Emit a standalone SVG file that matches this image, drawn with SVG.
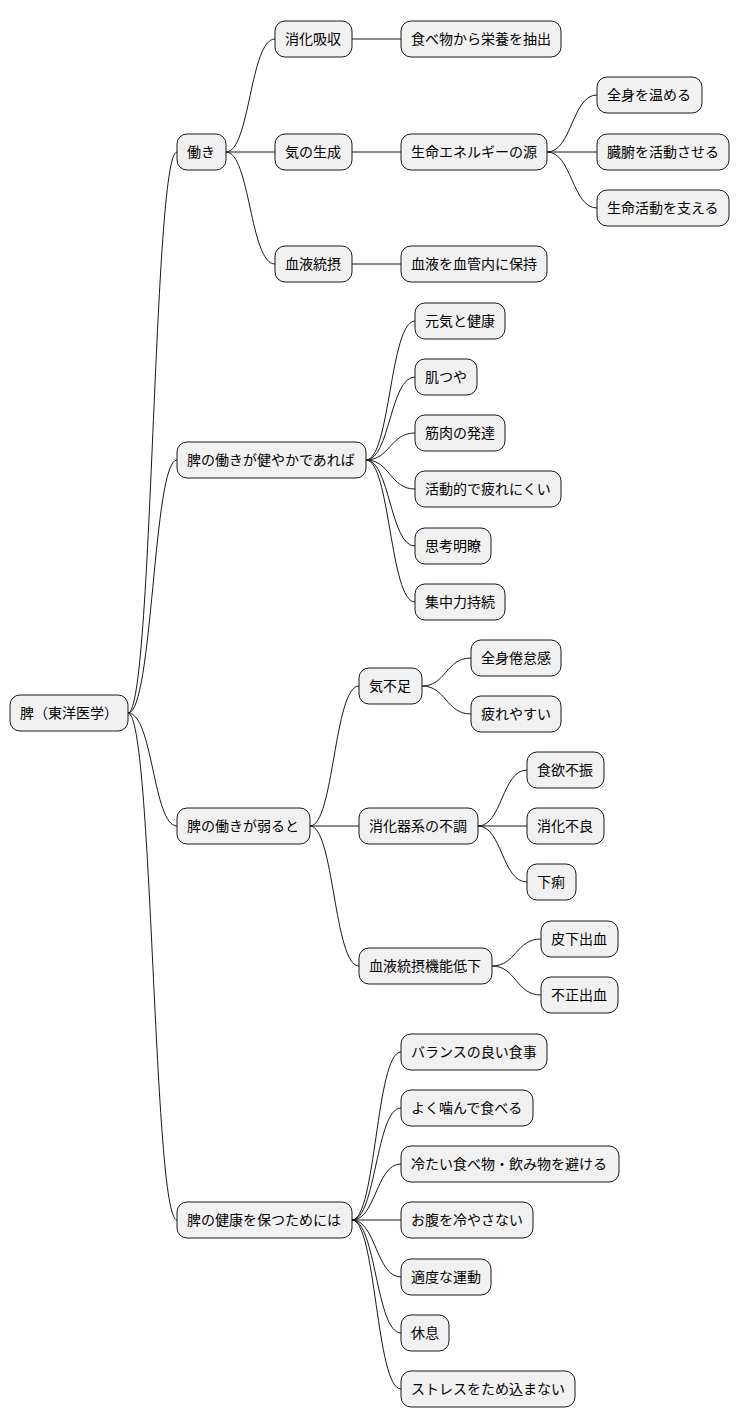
<svg xmlns="http://www.w3.org/2000/svg" width="740" height="1428" viewBox="0 0 740 1428">
<style>
rect{fill:#F1F1F1;stroke:#181818;stroke-width:1}
text{font-family:"Noto Sans CJK JP","Liberation Sans",sans-serif;font-size:14px;fill:#000}
#links path{fill:none;stroke:#181818;stroke-width:1}
</style>
<rect x="0" y="0" width="740" height="1428" style="fill:#fff;stroke:none"/>
<g id="links">
<path d="M128,713 C153,713 153,152 177,152"/>
<path d="M128,713 C153,713 153,460 177,460"/>
<path d="M128,713 C153,713 153,826 177,826"/>
<path d="M128,713 C153,713 153,1220 177,1220"/>
<path d="M226,152 C250,152 250,39 275,39"/>
<path d="M226,152 L275,152"/>
<path d="M226,152 C250,152 250,264 275,264"/>
<path d="M352,39 L401,39"/>
<path d="M352,152 L401,152"/>
<path d="M352,264 L401,264"/>
<path d="M547,152 C572,152 572,95 597,95"/>
<path d="M547,152 L597,152"/>
<path d="M547,152 C572,152 572,208 597,208"/>
<path d="M366,460 C390,460 390,321 415,321"/>
<path d="M366,460 C390,460 390,377 415,377"/>
<path d="M366,460 C390,460 390,433 415,433"/>
<path d="M366,460 C390,460 390,489 415,489"/>
<path d="M366,460 C390,460 390,546 415,546"/>
<path d="M366,460 C390,460 390,602 415,602"/>
<path d="M310,826 C334,826 334,686 359,686"/>
<path d="M310,826 L359,826"/>
<path d="M310,826 C334,826 334,966 359,966"/>
<path d="M422,686 C446,686 446,658 471,658"/>
<path d="M422,686 C446,686 446,714 471,714"/>
<path d="M478,826 C502,826 502,770 527,770"/>
<path d="M478,826 L527,826"/>
<path d="M478,826 C502,826 502,882 527,882"/>
<path d="M492,966 C516,966 516,939 541,939"/>
<path d="M492,966 C516,966 516,995 541,995"/>
<path d="M352,1220 C376,1220 376,1052 401,1052"/>
<path d="M352,1220 C376,1220 376,1108 401,1108"/>
<path d="M352,1220 C376,1220 376,1164 401,1164"/>
<path d="M352,1220 L401,1220"/>
<path d="M352,1220 C376,1220 376,1277 401,1277"/>
<path d="M352,1220 C376,1220 376,1333 401,1333"/>
<path d="M352,1220 C376,1220 376,1389 401,1389"/>
</g>
<g id="root"><rect x="10" y="695" width="118" height="36" rx="10"/><text x="20" y="718">脾（東洋医学）</text></g>
<g id="n1"><rect x="177" y="134" width="49" height="36" rx="10"/><text x="187" y="157">働き</text></g>
<g id="n2"><rect x="177" y="442" width="189" height="36" rx="10"/><text x="187" y="465">脾の働きが健やかであれば</text></g>
<g id="n3"><rect x="177" y="808" width="133" height="36" rx="10"/><text x="187" y="831">脾の働きが弱ると</text></g>
<g id="n4"><rect x="177" y="1202" width="175" height="36" rx="10"/><text x="187" y="1225">脾の健康を保つためには</text></g>
<g id="n11"><rect x="275" y="21" width="77" height="36" rx="10"/><text x="285" y="44">消化吸収</text></g>
<g id="n12"><rect x="275" y="134" width="77" height="36" rx="10"/><text x="285" y="157">気の生成</text></g>
<g id="n13"><rect x="275" y="246" width="77" height="36" rx="10"/><text x="285" y="269">血液統摂</text></g>
<g id="n111"><rect x="401" y="21" width="160" height="36" rx="10"/><text x="411" y="44">食べ物から栄養を抽出</text></g>
<g id="n121"><rect x="401" y="134" width="146" height="36" rx="10"/><text x="411" y="157">生命エネルギーの源</text></g>
<g id="n131"><rect x="401" y="246" width="146" height="36" rx="10"/><text x="411" y="269">血液を血管内に保持</text></g>
<g id="n1211"><rect x="597" y="77" width="105" height="36" rx="10"/><text x="607" y="100">全身を温める</text></g>
<g id="n1212"><rect x="597" y="134" width="132" height="36" rx="10"/><text x="607" y="157">臓腑を活動させる</text></g>
<g id="n1213"><rect x="597" y="190" width="132" height="36" rx="10"/><text x="607" y="213">生命活動を支える</text></g>
<g id="n21"><rect x="415" y="303" width="90" height="36" rx="10"/><text x="425" y="326">元気と健康</text></g>
<g id="n22"><rect x="415" y="359" width="62" height="36" rx="10"/><text x="425" y="382">肌つや</text></g>
<g id="n23"><rect x="415" y="415" width="90" height="36" rx="10"/><text x="425" y="438">筋肉の発達</text></g>
<g id="n24"><rect x="415" y="471" width="146" height="36" rx="10"/><text x="425" y="494">活動的で疲れにくい</text></g>
<g id="n25"><rect x="415" y="528" width="76" height="36" rx="10"/><text x="425" y="551">思考明瞭</text></g>
<g id="n26"><rect x="415" y="584" width="90" height="36" rx="10"/><text x="425" y="607">集中力持続</text></g>
<g id="n31"><rect x="359" y="668" width="63" height="36" rx="10"/><text x="369" y="691">気不足</text></g>
<g id="n32"><rect x="359" y="808" width="119" height="36" rx="10"/><text x="369" y="831">消化器系の不調</text></g>
<g id="n33"><rect x="359" y="948" width="133" height="36" rx="10"/><text x="369" y="971">血液統摂機能低下</text></g>
<g id="n311"><rect x="471" y="640" width="90" height="36" rx="10"/><text x="481" y="663">全身倦怠感</text></g>
<g id="n312"><rect x="471" y="696" width="90" height="36" rx="10"/><text x="481" y="719">疲れやすい</text></g>
<g id="n321"><rect x="527" y="752" width="77" height="36" rx="10"/><text x="537" y="775">食欲不振</text></g>
<g id="n322"><rect x="527" y="808" width="77" height="36" rx="10"/><text x="537" y="831">消化不良</text></g>
<g id="n323"><rect x="527" y="864" width="49" height="36" rx="10"/><text x="537" y="887">下痢</text></g>
<g id="n331"><rect x="541" y="921" width="77" height="36" rx="10"/><text x="551" y="944">皮下出血</text></g>
<g id="n332"><rect x="541" y="977" width="77" height="36" rx="10"/><text x="551" y="1000">不正出血</text></g>
<g id="n41"><rect x="401" y="1034" width="146" height="36" rx="10"/><text x="411" y="1057">バランスの良い食事</text></g>
<g id="n42"><rect x="401" y="1090" width="132" height="36" rx="10"/><text x="411" y="1113">よく噛んで食べる</text></g>
<g id="n43"><rect x="401" y="1146" width="218" height="36" rx="10"/><text x="411" y="1169">冷たい食べ物・飲み物を避ける</text></g>
<g id="n44"><rect x="401" y="1202" width="132" height="36" rx="10"/><text x="411" y="1225">お腹を冷やさない</text></g>
<g id="n45"><rect x="401" y="1259" width="90" height="36" rx="10"/><text x="411" y="1282">適度な運動</text></g>
<g id="n46"><rect x="401" y="1315" width="48" height="36" rx="10"/><text x="411" y="1338">休息</text></g>
<g id="n47"><rect x="401" y="1371" width="174" height="36" rx="10"/><text x="411" y="1394">ストレスをため込まない</text></g>
</svg>
